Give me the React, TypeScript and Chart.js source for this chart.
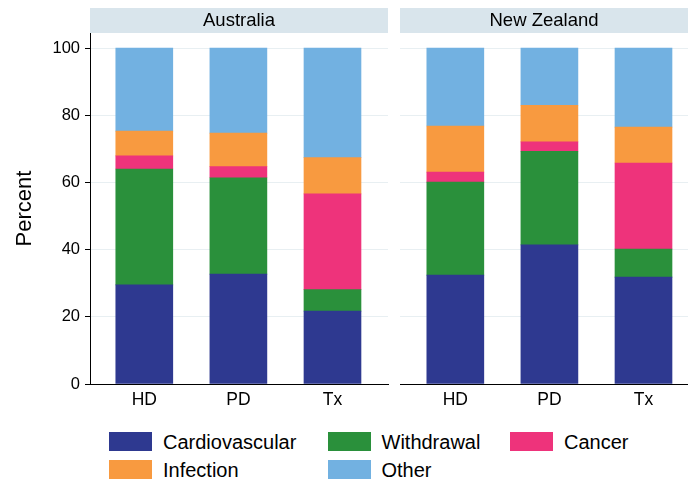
import React, { useEffect, useRef } from "react";
import { Chart, registerables } from "chart.js";

Chart.register(...registerables);

// ---------------- data ----------------
const categories = ["HD", "PD", "Tx"];
const panelTitles = ["Australia", "New Zealand"];
const causes = ["Cardiovascular", "Withdrawal", "Cancer", "Infection", "Other"];
const causeColors = ["#2e3990", "#2a903b", "#ee337b", "#f89a40", "#72b1e1"];
const yTicks = [0, 20, 40, 60, 80, 100];

// Australia (HD, PD, Tx)
const auCardiovascular = [29.5, 32.7, 21.7];
const auWithdrawal = [34.5, 28.7, 6.4];
const auCancer = [3.9, 3.3, 28.5];
const auInfection = [7.4, 10.0, 10.8];
const auOther = [24.7, 25.3, 32.6];

// New Zealand (HD, PD, Tx)
const nzCardiovascular = [32.4, 41.4, 31.8];
const nzWithdrawal = [27.7, 27.9, 8.4];
const nzCancer = [3.0, 2.8, 25.6];
const nzInfection = [13.7, 10.9, 10.7];
const nzOther = [23.2, 17.0, 23.5];

const auSeries = [auCardiovascular, auWithdrawal, auCancer, auInfection, auOther];
const nzSeries = [nzCardiovascular, nzWithdrawal, nzCancer, nzInfection, nzOther];

// ---------------- styling ----------------
const FONT = '"Liberation Sans", Arial, Helvetica, sans-serif';

const headerPlugin = {
  id: "facetHeader",
  beforeDraw(chart: any, _args: any, opts: any) {
    const { ctx, chartArea } = chart;
    ctx.save();
    ctx.fillStyle = "#d9e5ec";
    ctx.fillRect(chartArea.left, 8, chartArea.right - chartArea.left, 25);
    ctx.fillStyle = "#000";
    ctx.font = `18.5px ${FONT}`;
    ctx.textAlign = "center";
    ctx.textBaseline = "alphabetic";
    ctx.fillText(opts.text, (chartArea.left + chartArea.right) / 2, 26);
    ctx.restore();
  },
};

type PanelProps = {
  title: string;
  series: number[][];
  left: number;
  width: number;
  padLeft: number;
  padRight: number;
  xMin: number;
  xMax: number;
  showY: boolean;
};

function Panel(p: PanelProps) {
  const ref = useRef<HTMLCanvasElement>(null);
  useEffect(() => {
    if (!ref.current) return;
    const chart = new Chart(ref.current, {
      type: "bar",
      data: {
        datasets: causes.map((c, k) => ({
          label: c,
          data: p.series[k].map((v, i) => ({ x: i, y: v })),
          backgroundColor: causeColors[k],
          borderWidth: 0,
          stack: "all",
          barThickness: 57,
        })),
      } as any,
      plugins: [headerPlugin as any],
      options: {
        animation: false,
        responsive: false,
        maintainAspectRatio: false,
        layout: { padding: { top: 33, left: p.padLeft, right: p.padRight, bottom: 0 } },
        plugins: {
          legend: { display: false },
          tooltip: { enabled: false },
          facetHeader: { text: p.title },
        } as any,
        scales: {
          x: {
            type: "linear",
            offset: false,
            min: p.xMin,
            max: p.xMax,
            grid: { display: false, drawTicks: false, offset: false },
            border: { display: true, color: "#000", width: 1 },
            afterBuildTicks: (s: any) => {
              s.ticks = categories.map((_, i) => ({ value: i }));
            },
            ticks: {
              callback: (v: any) => categories[v] ?? "",
              font: { family: FONT, size: 17.5 },
              color: "#000",
              padding: 6,
              maxRotation: 0,
              autoSkip: false,
            },
            afterFit: (s: any) => {
              s.height = 36;
            },
          },
          y: {
            type: "linear",
            stacked: true,
            min: 0,
            max: 104.5,
            afterBuildTicks: (s: any) => {
              s.ticks = yTicks.map((v) => ({ value: v }));
            },
            grid: {
              color: "#e8eff2",
              tickColor: "#000",
              tickLength: 5,
              drawTicks: p.showY,
            },
            border: { display: p.showY, color: "#000", width: 1 },
            ticks: {
              display: p.showY,
              font: { family: FONT, size: 16.5 },
              color: "#000",
              padding: 5,
            },
            title: {
              display: p.showY,
              text: "Percent",
              font: { family: FONT, size: 22 },
              color: "#000",
              padding: { top: 12, bottom: 0 },
            },
            afterFit: (s: any) => {
              s.width = p.showY ? 90 : 0;
            },
          },
        },
      } as any,
    });
    return () => chart.destroy();
  }, []);
  return (
    <canvas
      ref={ref}
      width={p.width}
      height={420}
      style={{ position: "absolute", left: p.left, top: 0, width: p.width, height: 420, display: "block" }}
    />
  );
}

export default function App() {
  return (
    <div
      style={{
        position: "fixed",
        left: 0,
        top: 0,
        width: 688,
        height: 481,
        background: "#fff",
        overflow: "hidden",
        fontFamily: FONT,
      }}
    >
      <Panel
        title={panelTitles[0]}
        series={auSeries}
        left={0}
        width={390}
        padLeft={0}
        padRight={2}
        xMin={-0.577}
        xMax={2.59}
        showY={true}
      />
      <Panel
        title={panelTitles[1]}
        series={nzSeries}
        left={390}
        width={298}
        padLeft={10}
        padRight={0}
        xMin={-0.588}
        xMax={2.473}
        showY={false}
      />
      {causes.map((c, k) => {
        const colX = [109, 327.5, 510][k % 3];
        const rowY = [432, 460][Math.floor(k / 3)];
        return (
          <React.Fragment key={c}>
            <div
              style={{
                position: "absolute",
                left: colX,
                top: rowY,
                width: 43,
                height: 19,
                background: causeColors[k],
              }}
            />
            <div
              style={{
                position: "absolute",
                left: colX + 54,
                top: rowY - 1,
                fontSize: 20,
                lineHeight: "23px",
                color: "#000",
                whiteSpace: "nowrap",
              }}
            >
              {c}
            </div>
          </React.Fragment>
        );
      })}
    </div>
  );
}
